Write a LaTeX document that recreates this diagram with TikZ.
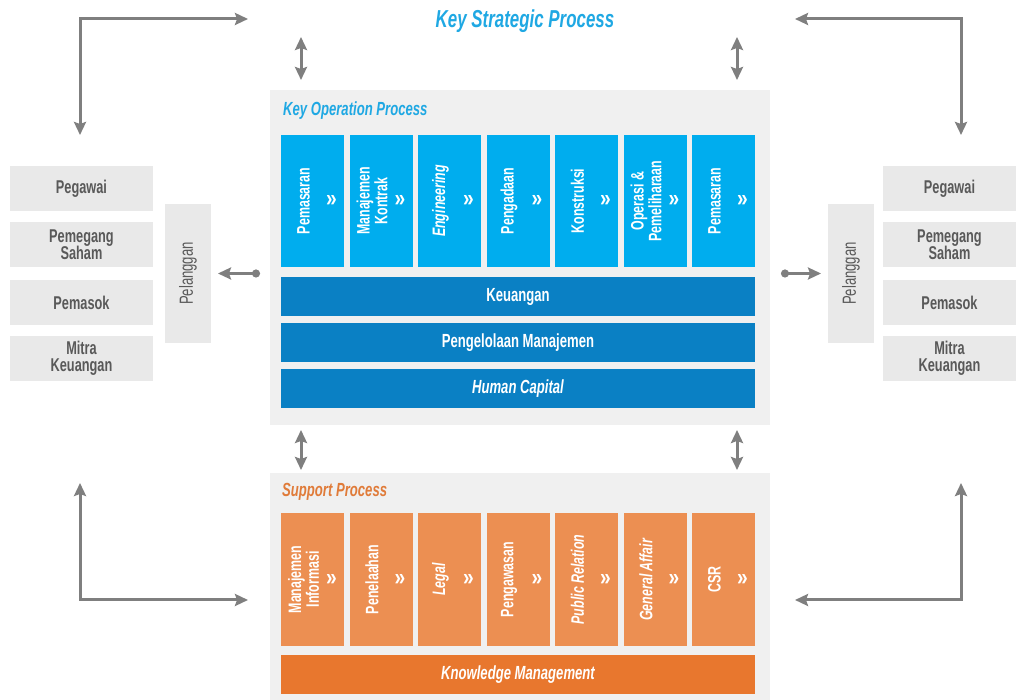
\documentclass[tikz,border=0pt]{standalone}
\usepackage{fontspec}
\setmainfont{Liberation Sans}[FakeStretch=0.8]
\newfontfamily\narrowfont{Liberation Sans}[FakeStretch=0.69]
\usepackage{tikz}
\usetikzlibrary{arrows.meta,%
                positioning}

\definecolor{OpBlue}{HTML}{00ADEE}
\definecolor{BarBlue}{HTML}{0A80C4}
\definecolor{TitleBlue}{HTML}{1FA8E3}
\definecolor{SupOrange}{HTML}{EC8F52}
\definecolor{KmOrange}{HTML}{E8772E}
\definecolor{TitleOrange}{HTML}{E07B39}
\definecolor{PanelGray}{HTML}{F0F0F0}
\definecolor{SideGray}{HTML}{E9E9E9}
\definecolor{TextGray}{HTML}{595959}
\definecolor{ArrowGray}{HTML}{7F7F7F}

\newcommand{\setsz}[2]{\fontsize{#1}{#2}\selectfont}

\begin{document}
\begin{tikzpicture}[x=1pt, y=1pt]
  \tikzset{PanelStyle/.style = {shape          = rectangle,
                                fill           = PanelGray,
                                anchor         = south west,
                                inner sep      = 0pt,
                                outer sep      = 0pt},
           StepBox/.style    = {shape          = rectangle,
                                inner sep      = 0pt,
                                outer sep      = 0pt,
                                minimum width  = 63pt,
                                minimum height = 132pt},
           StepText/.style   = {text = white, align = center, inner sep = 0pt,
                                font = \narrowfont\setsz{18}{15}\bfseries},
           ChevText/.style   = {text = white, inner sep = 0pt,
                                font = \setsz{24}{24}\bfseries},
           OpStep/.style     = {StepBox, fill = OpBlue,
                                label = {[StepText, xshift=-9pt, rotate=90]center:#1},
                                label = {[ChevText, xshift=19pt]center:»}},
           SupStep/.style    = {StepBox, fill = SupOrange, minimum height = 133pt,
                                label = {[StepText, xshift=-9pt, rotate=90]center:#1},
                                label = {[ChevText, xshift=19pt]center:»}},
           BarStyle/.style   = {shape          = rectangle,
                                text           = white,
                                inner sep      = 0pt,
                                outer sep      = 0pt,
                                minimum width  = 474pt,
                                minimum height = 39pt,
                                font           = \narrowfont\setsz{19}{19}\bfseries},
           SideStyle/.style  = {shape          = rectangle,
                                fill           = SideGray,
                                text           = TextGray,
                                align          = center,
                                inner sep      = 0pt,
                                outer sep      = 0pt,
                                minimum width  = 143pt,
                                minimum height = 45pt,
                                font           = \narrowfont\setsz{18.5}{17.5}\bfseries},
           CustStyle/.style  = {shape          = rectangle,
                                fill           = SideGray,
                                inner sep      = 0pt,
                                outer sep      = 0pt,
                                minimum width  = 46pt,
                                minimum height = 139pt,
                                label = {[text=TextGray, rotate=90, inner sep=0pt,
                                          font=\narrowfont\setsz{19}{19}]center:#1}},
           BothArrow/.style  = {draw = ArrowGray, line width = 3pt, <->},
           DotArrow/.style   = {draw = ArrowGray, line width = 2.5pt,
                                shorten > = 7pt,
                                arrows = {Circle[length=8pt]->}},
           >={Stealth[length=13pt, width=12pt, inset=2pt]}}

  \useasboundingbox (0,0) rectangle (1016,700);

	%%% KEY STRATEGIC PROCESS %%%
  \node[anchor=base, inner sep=0pt, text=TitleBlue,
        font=\narrowfont\setsz{24.5}{24.5}\bfseries\itshape] (strat) at (525,672) {Key Strategic Process};

	%%% KEY OPERATION PROCESS %%%
  \node[PanelStyle, minimum width=500pt, minimum height=335pt] (keyop) at (270,275) {};
  \node[anchor=base west, inner sep=0pt, text=TitleBlue,
        font=\narrowfont\setsz{19}{19}\bfseries\itshape] (optitle)
        at ([xshift=13pt, yshift=-26pt]keyop.north west) {Key Operation Process};
  \node[OpStep=Pemasaran, anchor=north west] (op1) at ([xshift=11pt, yshift=-45pt]keyop.north west) {};
  \node[OpStep={Manajemen\\Kontrak}, right=5.5pt of op1] (op2) {};
  \node[OpStep=\textit{Engineering}, right=5.5pt of op2] (op3) {};
  \node[OpStep=Pengadaan, right=5.5pt of op3] (op4) {};
  \node[OpStep=Konstruksi, right=5.5pt of op4] (op5) {};
  \node[OpStep={Operasi \&\\Pemeliharaan}, right=5.5pt of op5] (op6) {};
  \node[OpStep=Pemasaran, right=5.5pt of op6] (op7) {};
  \node[BarStyle, fill=BarBlue, below=10pt of op1.south west, anchor=north west] (keu) {Keuangan};
  \node[BarStyle, fill=BarBlue, below=7pt of keu] (mgmt) {Pengelolaan Manajemen};
  \node[BarStyle, fill=BarBlue, below=7pt of mgmt] (hc) {\itshape Human Capital};

	%%% SUPPORT PROCESS %%%
  \node[PanelStyle, minimum width=500pt, minimum height=227pt] (supp) at (270,0) {};
  \node[anchor=base west, inner sep=0pt, text=TitleOrange,
        font=\narrowfont\setsz{19}{19}\bfseries\itshape] (suptitle)
        at ([xshift=12pt, yshift=-24pt]supp.north west) {Support Process};
  \node[SupStep={Manajemen\\Informasi}, anchor=north west] (sp1) at ([xshift=11pt, yshift=-40pt]supp.north west) {};
  \node[SupStep=Penelaahan, right=5.5pt of sp1] (sp2) {};
  \node[SupStep=\textit{Legal}, right=5.5pt of sp2] (sp3) {};
  \node[SupStep=Pengawasan, right=5.5pt of sp3] (sp4) {};
  \node[SupStep=\textit{Public Relation}, right=5.5pt of sp4] (sp5) {};
  \node[SupStep=\textit{General Affair}, right=5.5pt of sp5] (sp6) {};
  \node[SupStep=CSR, right=5.5pt of sp6] (sp7) {};
  \node[BarStyle, fill=KmOrange, below=9pt of sp1.south west, anchor=north west] (km) {\itshape Knowledge Management};

	%%% KIRI %%%
  \node[SideStyle] (lpeg) at (81.5,511.5) {Pegawai};
  \node[SideStyle, below=11pt of lpeg] (lsaham) {Pemegang\\Saham};
  \node[SideStyle, below=13pt of lsaham] (lpemasok) {Pemasok};
  \node[SideStyle, below=11pt of lpemasok] (lmitra) {Mitra\\Keuangan};
  \node[CustStyle=Pelanggan] (lcust) at (188,426.5) {};
  \coordinate (ldot) at (260,426.5);
  \draw[DotArrow] (ldot) -- (lcust);

	%%% KANAN %%%
  \node[SideStyle, minimum width=133pt] (rpeg) at (949.5,511.5) {Pegawai};
  \node[SideStyle, minimum width=133pt, below=11pt of rpeg] (rsaham) {Pemegang\\Saham};
  \node[SideStyle, minimum width=133pt, below=13pt of rsaham] (rpemasok) {Pemasok};
  \node[SideStyle, minimum width=133pt, below=11pt of rpemasok] (rmitra) {Mitra\\Keuangan};
  \node[CustStyle=Pelanggan] (rcust) at (851,426.5) {};
  \coordinate (rdot) at (781,426.5);
  \draw[DotArrow] (rdot) -- (rcust);

	%%% PANAH %%%
  \draw[BothArrow] ([xshift=31pt, yshift=10pt]keyop.north west) -- ([xshift=31pt, yshift=53pt]keyop.north west);
  \draw[BothArrow] ([xshift=-33pt, yshift=10pt]keyop.north east) -- ([xshift=-33pt, yshift=53pt]keyop.north east);
  \draw[BothArrow] ([xshift=31pt, yshift=-5pt]keyop.south west) -- ([xshift=31pt, yshift=3pt]supp.north west);
  \draw[BothArrow] ([xshift=-33pt, yshift=-5pt]keyop.south east) -- ([xshift=-33pt, yshift=3pt]supp.north east);
  \coordinate (tlA) at (80,565);  \coordinate (tlB) at (248,681);
  \coordinate (trA) at (961,565); \coordinate (trB) at (795,681);
  \coordinate (blA) at (80,217);  \coordinate (blB) at (248,100);
  \coordinate (brA) at (961,217); \coordinate (brB) at (795,100);
  \draw[BothArrow] (tlA) |- (tlB);
  \draw[BothArrow] (trA) |- (trB);
  \draw[BothArrow] (blA) |- (blB);
  \draw[BothArrow] (brA) |- (brB);
\end{tikzpicture}
\end{document}
